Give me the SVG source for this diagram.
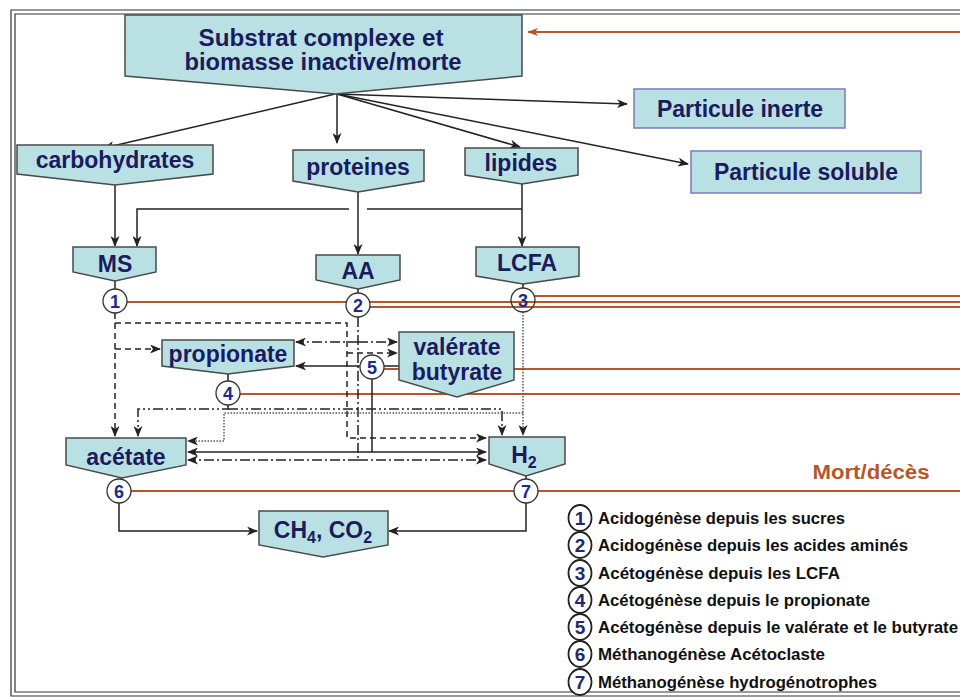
<svg xmlns="http://www.w3.org/2000/svg" width="960" height="697" viewBox="0 0 960 697">
<defs>
<style>
.box{fill:#b9e1e4;stroke:#4a4a4a;stroke-width:1.5}
.pbox{fill:#b9e1e4;stroke:#7c79b8;stroke-width:1.5}
.t{font-family:"Liberation Sans",Arial,sans-serif;font-weight:bold;font-size:23px;fill:#1b1b5e;text-anchor:middle}
.c{fill:#fff;stroke:#333;stroke-width:1.3}
.n{font-family:"Liberation Sans",Arial,sans-serif;font-weight:bold;font-size:18px;fill:#1d2a8c;text-anchor:middle}
.k{fill:none;stroke:#222;stroke-width:1.5}
.r{fill:none;stroke:#b5562c;stroke-width:2}
.dash{stroke-dasharray:6 4}
.dd{stroke-dasharray:10 3 2 3}
.ddd{stroke-dasharray:10 3 2 3 2 3}
.dot{stroke-dasharray:1.5 1.5;stroke:#555}
.lg{font-family:"Liberation Sans",Arial,sans-serif;font-weight:bold;font-size:16px;fill:#111}
.lc{fill:#fff;stroke:#222;stroke-width:1.8}
.ln{font-family:"Liberation Sans",Arial,sans-serif;font-weight:bold;font-size:19px;fill:#1d2a6c;text-anchor:middle}
</style>
<marker id="a" markerWidth="11" markerHeight="9" refX="10" refY="4.5" orient="auto" markerUnits="userSpaceOnUse">
<path d="M0,0 L11,4.5 L0,9 L3,4.5 z" fill="#222"/>
</marker>
<marker id="ar" markerWidth="12" markerHeight="8" refX="10" refY="4" orient="auto" markerUnits="userSpaceOnUse">
<path d="M0,0 L11,4 L0,8 L3,4 z" fill="#b5562c"/>
</marker>
</defs>
<rect width="960" height="697" fill="#fff"/>
<g id="frame" fill="none" stroke="#333" stroke-width="1.2">
<path d="M960,10 H11 V696 H960"/>
<path d="M960,14 H15 V692 H960"/>
</g>
<g id="connectors">
<g class="r">
<path d="M960,32 H528" marker-end="url(#ar)"/>
<path d="M127,302 H960"/>
<path d="M370,307 H960"/>
<path d="M535,296 H960"/>
<path d="M384,369 H960"/>
<path d="M240,394 H960"/>
<path d="M131,491 H514 M538,491 H960"/>
</g>
<g class="k">
<path d="M335,94 L104,148" marker-end="url(#a)"/>
<path d="M337,94 V143" marker-end="url(#a)"/>
<path d="M337,94 L520,147" marker-end="url(#a)"/>
<path d="M337,94 L627,104" marker-end="url(#a)"/>
<path d="M337,94 L688,164" marker-end="url(#a)"/>
<path d="M115,185 V246" marker-end="url(#a)"/>
<path d="M358,192 V254" marker-end="url(#a)"/>
<path d="M522,184 V246" marker-end="url(#a)"/>
<path d="M522,209 H367"/>
<path d="M349,209 H137 V246" marker-end="url(#a)"/>
<path d="M115,281 V289"/>
<path d="M358,289 V293"/>
<path d="M523,284 V288"/>
<path d="M228,374 V381"/>
<path d="M122,478 V479"/>
<path d="M526,476 V479"/>
<path class="dash" d="M115,313 V436" marker-end="url(#a)"/>
<path class="dash" d="M115,349 H160" marker-end="url(#a)"/>
<path class="dash" d="M115,323 H347 V438 H486" marker-end="url(#a)"/>
<path class="dash" d="M347,353 H397" marker-end="url(#a)"/>
<path class="dd" d="M358,317 V460"/>
<path class="dd" d="M358,460 H188" marker-end="url(#a)"/>
<path class="dd" d="M358,460 H486" marker-end="url(#a)"/>
<path class="dd" d="M358,342 H296" marker-end="url(#a)"/>
<path class="dd" d="M358,342 H397" marker-end="url(#a)"/>
<path d="M360,366 H296" marker-end="url(#a)"/>
<path d="M384,366 H399"/>
<path d="M372,379 V452"/>
<path d="M372,452 H188" marker-end="url(#a)"/>
<path d="M372,452 H486" marker-end="url(#a)"/>
<path class="ddd" d="M228,405 V409 H138 V436" marker-end="url(#a)"/>
<path class="ddd" d="M228,409 H502 V435" marker-end="url(#a)"/>
<path class="dot" d="M523,312 V435" marker-end="url(#a)"/>
<path class="dot" d="M523,413 H224 V441 H188" marker-end="url(#a)"/>
<path d="M119,503 V531 H257" marker-end="url(#a)"/>
<path d="M526,503 V531 H389" marker-end="url(#a)"/>
</g>
</g>
<g id="substrat">
<polygon class="box" points="125,15 522,15 522,76 335,94 125,76"/>
<text class="t" x="321" y="46" font-size="24" textLength="245" lengthAdjust="spacingAndGlyphs">Substrat complexe et</text>
<text class="t" x="323" y="70" font-size="24" textLength="277" lengthAdjust="spacingAndGlyphs">biomasse inactive/morte</text>
</g>
<g id="inerte">
<rect class="pbox" x="634" y="89" width="211" height="39"/>
<text class="t" x="740" y="117">Particule inerte</text>
</g>
<g id="soluble">
<rect class="pbox" x="691" y="151" width="230" height="42"/>
<text class="t" x="806" y="180">Particule soluble</text>
</g>
<g id="carbohydrates">
<polygon class="box" points="17,145 213,145 213,174 115,185 17,174"/>
<text class="t" x="115" y="168">carbohydrates</text>
</g>
<g id="proteines">
<polygon class="box" points="293,150 424,150 424,181 358,192 293,181"/>
<text class="t" x="358" y="175">proteines</text>
</g>
<g id="lipides">
<polygon class="box" points="465,148 578,148 578,175 522,184 465,175"/>
<text class="t" x="521" y="171">lipides</text>
</g>
<g id="MS">
<polygon class="box" points="73,247 156,247 156,272 115,281 73,272"/>
<text class="t" x="115" y="272">MS</text>
</g>
<g id="AA">
<polygon class="box" points="316,255 400,255 400,280 358,289 316,280"/>
<text class="t" x="358" y="279">AA</text>
</g>
<g id="LCFA">
<polygon class="box" points="476,247 579,247 579,276 523,284 476,276"/>
<text class="t" x="527" y="271">LCFA</text>
</g>
<g id="c1"><circle class="c" cx="115" cy="301" r="12"/><text class="n" x="115" y="307.5">1</text></g>
<g id="c2"><circle class="c" cx="358" cy="305" r="12"/><text class="n" x="358" y="311.5">2</text></g>
<g id="c3"><circle class="c" cx="523" cy="300" r="12" style="fill:none"/><text class="n" x="523" y="306.5">3</text></g>
<g id="propionate">
<polygon class="box" points="162,340 294,340 294,366 228,374 162,366"/>
<text class="t" x="228" y="362">propionate</text>
</g>
<g id="valerate">
<polygon class="box" points="399,332 514,332 514,380 457,397 399,380"/>
<text class="t" x="457" y="355">valérate</text>
<text class="t" x="457" y="380">butyrate</text>
</g>
<g id="c4"><circle class="c" cx="228" cy="393" r="12"/><text class="n" x="228" y="399.5">4</text></g>
<g id="c5"><circle class="c" cx="372" cy="367" r="12"/><text class="n" x="372" y="373.5">5</text></g>
<g id="acetate">
<polygon class="box" points="66,438 186,438 186,465 122,478 66,465"/>
<text class="t" x="126" y="465">acétate</text>
</g>
<g id="H2">
<polygon class="box" points="489,437 565,437 565,464 526,476 489,464"/>
<text class="t" x="524" y="463">H<tspan font-size="16" dy="5">2</tspan></text>
</g>
<g id="c6"><circle class="c" cx="119" cy="491" r="12"/><text class="n" x="119" y="497.5">6</text></g>
<g id="c7"><circle class="c" cx="526" cy="491" r="12"/><text class="n" x="526" y="497.5">7</text></g>
<g id="CH4CO2">
<polygon class="box" points="259,511 388,511 388,545 323,557 259,545"/>
<text class="t" x="323" y="538">CH<tspan font-size="16" dy="5">4</tspan><tspan dy="-5">, CO</tspan><tspan font-size="16" dy="5">2</tspan></text>
</g>
<text id="mort" x="871" y="479" font-family="Liberation Sans, Arial, sans-serif" font-size="21" font-weight="bold" fill="#b5562c" text-anchor="middle" textLength="117" lengthAdjust="spacingAndGlyphs">Mort/décès</text>
<g id="legend">
<ellipse class="lc" cx="580" cy="518" rx="11.5" ry="13"/><text class="ln" x="580" y="525">1</text>
<text class="lg" x="598" y="524" textLength="247" lengthAdjust="spacingAndGlyphs">Acidogénèse depuis les sucres</text>
<ellipse class="lc" cx="580" cy="545" rx="11.5" ry="13"/><text class="ln" x="580" y="552">2</text>
<text class="lg" x="598" y="551" textLength="310" lengthAdjust="spacingAndGlyphs">Acidogénèse depuis les acides aminés</text>
<ellipse class="lc" cx="580" cy="573" rx="11.5" ry="13"/><text class="ln" x="580" y="580">3</text>
<text class="lg" x="598" y="579" textLength="242" lengthAdjust="spacingAndGlyphs">Acétogénèse depuis les LCFA</text>
<ellipse class="lc" cx="580" cy="600" rx="11.5" ry="13"/><text class="ln" x="580" y="607">4</text>
<text class="lg" x="598" y="606" textLength="272" lengthAdjust="spacingAndGlyphs">Acétogénèse depuis le propionate</text>
<ellipse class="lc" cx="580" cy="627" rx="11.5" ry="13"/><text class="ln" x="580" y="634">5</text>
<text class="lg" x="598" y="633" textLength="360" lengthAdjust="spacingAndGlyphs">Acétogénèse depuis le valérate et le butyrate</text>
<ellipse class="lc" cx="580" cy="654" rx="11.5" ry="13"/><text class="ln" x="580" y="661">6</text>
<text class="lg" x="598" y="660" textLength="227" lengthAdjust="spacingAndGlyphs">Méthanogénèse Acétoclaste</text>
<ellipse class="lc" cx="580" cy="682" rx="11.5" ry="13"/><text class="ln" x="580" y="689">7</text>
<text class="lg" x="598" y="688" textLength="279" lengthAdjust="spacingAndGlyphs">Méthanogénèse hydrogénotrophes</text>
</g>
</svg>
